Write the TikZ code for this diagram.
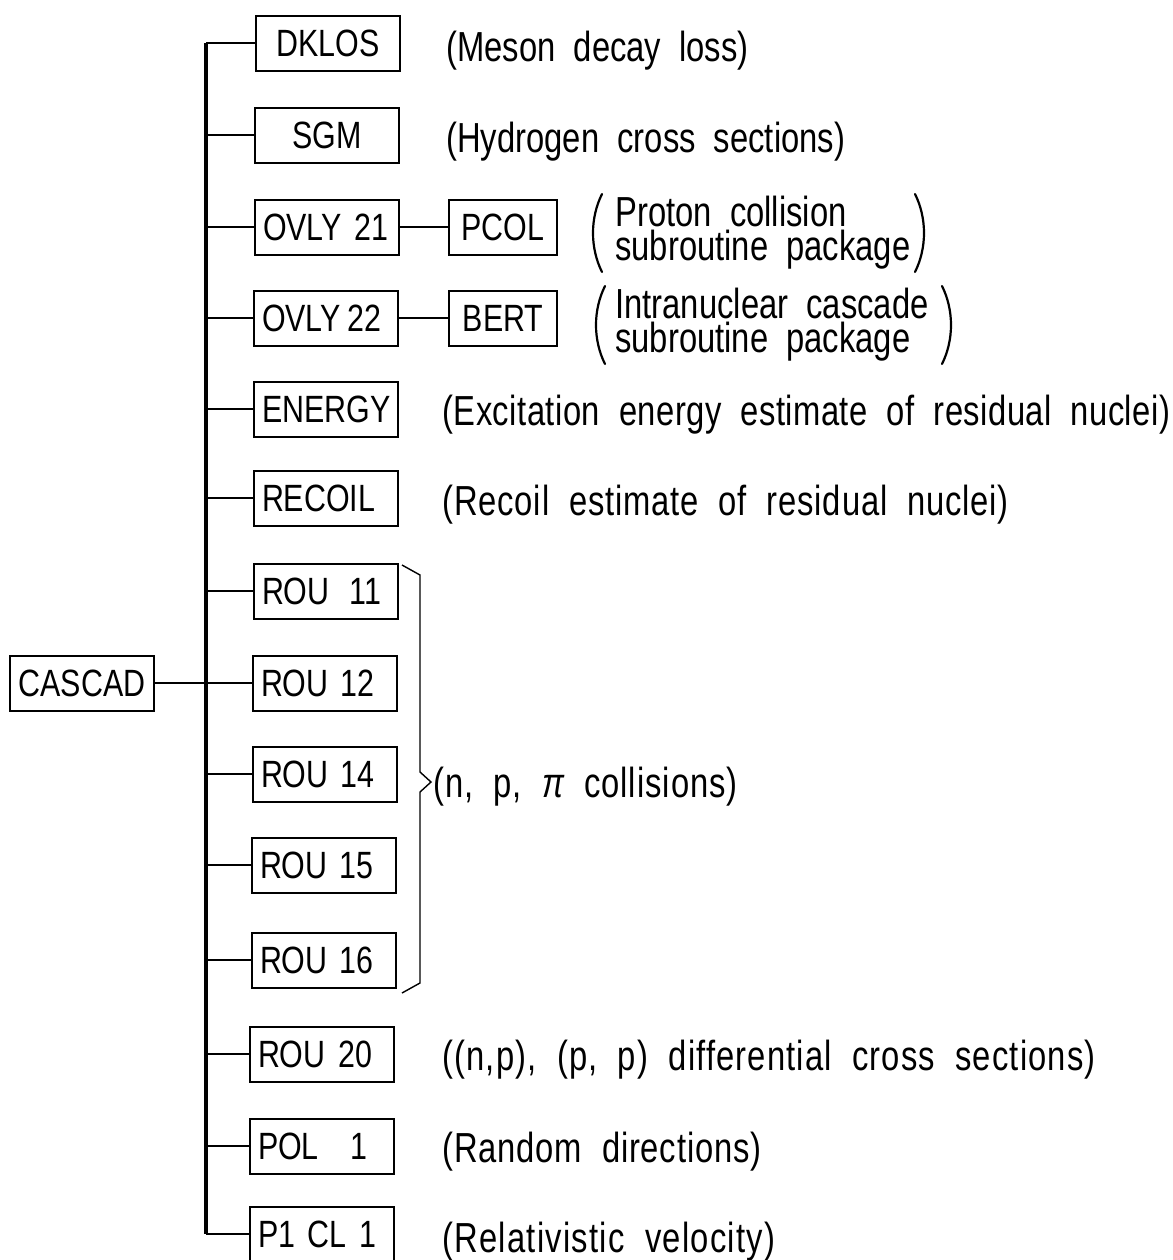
\documentclass[tikz,border=0pt]{standalone}
\usepackage{fontspec}
\setmainfont{Liberation Sans}
\newfontfamily\boxfont[FakeStretch=0.8]{Liberation Sans}
\newfontfamily\descfont[FakeStretch=0.78,WordSpace=2.0]{Liberation Sans}
\newcommand{\spaced}[1]{\addfontfeatures{LetterSpace=#1}}
\begin{document}
\begin{tikzpicture}[x=0.5pt,y=-0.5pt,
  prog/.style={draw,line width=1pt,minimum width=72pt,minimum height=27.5pt,
    inner sep=0pt,font=\boxfont\fontsize{19}{21}\selectfont},
  progl/.style={prog,text width=64pt,align=left},
  progc/.style={prog,align=center},
  sub/.style={prog,minimum width=54pt},
  wire/.style={line width=1.4pt},
  trunk/.style={line width=1.6pt},
  desc/.style={anchor=base west,inner sep=0pt,font=\descfont\fontsize{21}{23}\selectfont},
  pair/.style={desc,align=left,font=\descfont\fontsize{21}{16.8}\selectfont},
  paren/.style={line width=1.1pt,line cap=round}]
\useasboundingbox (0,0) rectangle (1173,1260);
\fill[white] (0,0) rectangle (1173,1260);

% main routine
\node[progc] (cascad) at (82,683) {CASCAD};

% called routines
\node[progc] (dklos)  at (328,43)   {DKLOS};
\node[progc] (sgm)    at (327,135)  {SGM};
\node[progl] (ovly21) at (327,227)  {OVLY 21};
\node[progl] (ovly22) at (326,318)  {OVLY\,22};
\node[progl] (energy) at (326,409)  {ENERGY};
\node[progl] (recoil) at (326,498)  {RECOIL};
\node[progl] (rou11)  at (326,591)  {ROU\hspace{10pt}11};
\node[progl] (rou12)  at (325,683)  {ROU\hspace{6pt}12};
\node[progl] (rou14)  at (325,774)  {ROU\hspace{6pt}14};
\node[progl] (rou15)  at (324,865)  {ROU\hspace{6pt}15};
\node[progl] (rou16)  at (324,960)  {ROU\hspace{6pt}16};
\node[progl] (rou20)  at (322,1054) {ROU 20};
\node[progl] (pol1)   at (322,1146) {POL\hspace{16pt}1};
\node[progl] (p1cl1)  at (322,1234) {P1 CL 1};

% overlay packages
\node[sub] (pcol) at (503,227) {PCOL};
\node[sub] (bert) at (503,318) {BERT};

% vertical bus
\coordinate (jtop) at (206,43);
\coordinate (jbot) at (206,1234);
\draw[trunk] (jtop) -- (jbot);

\foreach \n in {dklos,sgm,ovly21,ovly22,energy,recoil,rou11,rou14,rou15,rou16,rou20,pol1,p1cl1}
  \draw[wire] (\n.west) -- (\n.west -| jtop);
\draw[wire] (cascad.east) -- (rou12.west);
\draw[wire] (ovly21.east) -- (pcol.west);
\draw[wire] (ovly22.east) -- (bert.west);

% descriptions
\node[desc] (d1) at (446,61)   {(Meson decay loss)};
\node[desc] (d2) at (446,152)  {(Hydrogen cross sections)};
\node[desc] (d5) at (442,425)  {\spaced{1.1}(Excitation energy estimate of residual nuclei)};
\node[desc] (d6) at (442,515)  {\spaced{2}(Recoil estimate of residual nuclei)};
\node[desc] (d7) at (433,797)  {\spaced{2.3}(n, p, {\itshape π} collisions)};
\node[desc] (d8) at (442,1070) {\spaced{2.7}((n,p), (p, p) differential cross sections)};
\node[desc] (d9) at (442,1162) {\spaced{2}(Random directions)};
\node[desc] (d10) at (442,1252) {\spaced{2.9}(Relativistic velocity)};

% two-line descriptions (anchored at the baseline of the second line)
\node[pair] (d3) at (615,260) {Proton collision\\subroutine package};
\node[pair] (d4) at (615,352) {Intranuclear cascade\\subroutine package};

% large parentheses
\draw[paren] (602,194) .. controls (590,218) and (590,248) .. (602,272);
\draw[paren] (915,194) .. controls (927,218) and (927,248) .. (915,272);
\draw[paren] (605,286) .. controls (593,310) and (593,340) .. (605,364);
\draw[paren] (942,286) .. controls (954,310) and (954,340) .. (942,364);

% brace grouping ROU 11 ... ROU 16
\draw[line width=0.7pt] (402,565) -- (420,575) -- (420,772) -- (431,782)
  -- (420,792) -- (420,983) -- (402,993);
\end{tikzpicture}
\end{document}
